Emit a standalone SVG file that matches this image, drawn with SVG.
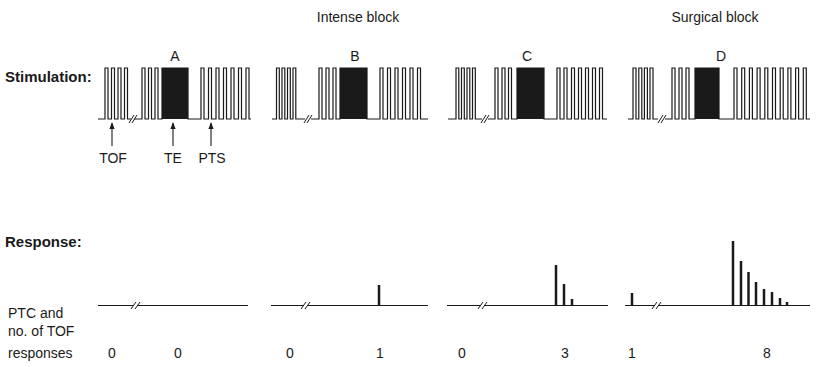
<svg xmlns="http://www.w3.org/2000/svg" width="821" height="367" viewBox="0 0 821 367">
<defs>
<style>
text{font-family:"Liberation Sans",Arial,sans-serif;fill:#1a1a1a}
.t{font-size:14px}
.h{font-size:15px;font-weight:bold}
.n{font-size:14px;text-anchor:middle}
.p{fill:none;stroke:#1a1a1a;stroke-width:1.2;stroke-linejoin:miter}
.blk{fill:#1a1a1a}
.br{stroke:#1a1a1a;stroke-width:1}
.sp{stroke:#1a1a1a;stroke-width:2.5}
.ar{stroke:#1a1a1a;stroke-width:1.1}
</style>
<marker id="ah" viewBox="0 0 10 10" refX="9" refY="5" markerWidth="6" markerHeight="6" orient="auto"><path d="M0,1 L10,5 L0,9 z" fill="#1a1a1a"/></marker>
</defs>
<rect width="821" height="367" fill="#fff"/>

<g id="titles">
<text class="t" x="358" y="22" text-anchor="middle">Intense block</text>
<text class="t" x="715" y="22" text-anchor="middle">Surgical block</text>
<text class="t" x="175" y="61" text-anchor="middle">A</text>
<text class="t" x="355" y="61" text-anchor="middle">B</text>
<text class="t" x="527" y="61" text-anchor="middle">C</text>
<text class="t" x="721" y="61" text-anchor="middle">D</text>
<text class="h" x="5" y="82">Stimulation:</text>
<text class="h" x="5" y="247">Response:</text>
<text class="t" x="8" y="318">PTC and</text>
<text class="t" x="8" y="336">no. of TOF</text>
<text class="t" x="8" y="358">responses</text>
</g>

<g id="stimA">
<path class="p" d="M98,119 H105 V68 H108 V119 H111.5 V68 H114.5 V119 H118 V68 H121 V119 H124.5 V68 H127.5 V119 H131"/>
<path class="p" d="M134,119 H142 V68 H145 V119 H148.5 V68 H151.5 V119 H155 V68 H158 V119 H162 V68 H188 V119 H201 V68 H204 V119 H208.5 V68 H211.5 V119 H216 V68 H219 V119 H223.5 V68 H226.5 V119 H231 V68 H234 V119 H238.5 V68 H241.5 V119 H246 V68 H249 V119 H251"/>
<rect class="blk" x="162" y="68" width="26" height="51"/>
<line class="br" x1="129" y1="123" x2="134" y2="115"/><line class="br" x1="132" y1="123" x2="137" y2="115"/>
</g>
<g id="arrowsA">
<line class="ar" x1="112" y1="146" x2="112" y2="123" marker-end="url(#ah)"/>
<line class="ar" x1="173" y1="146" x2="173" y2="123" marker-end="url(#ah)"/>
<line class="ar" x1="211" y1="146" x2="211" y2="123" marker-end="url(#ah)"/>
<text class="n" x="113" y="163">TOF</text>
<text class="n" x="173" y="163">TE</text>
<text class="n" x="212" y="163">PTS</text>
</g>

<g id="stimB">
<path class="p" d="M272,119 H276.5 V68 H279.3 V119 H282 V68 H284.8 V119 H287.5 V68 H290.3 V119 H293 V68 H295.8 V119 H305"/>
<path class="p" d="M311,119 H319 V68 H322 V119 H326 V68 H329 V119 H333 V68 H336 V119 H340 V68 H367 V119 H380 V68 H383 V119 H387.5 V68 H390.5 V119 H395 V68 H398 V119 H402.5 V68 H405.5 V119 H410 V68 H413 V119 H417.5 V68 H420.5 V119 H428"/>
<rect class="blk" x="340" y="68" width="27" height="51"/>
<line class="br" x1="304" y1="123" x2="309" y2="115"/><line class="br" x1="307" y1="123" x2="312" y2="115"/>
</g>

<g id="stimC">
<path class="p" d="M448,119 H456 V68 H458.8 V119 H461.5 V68 H464.3 V119 H467 V68 H469.8 V119 H472.5 V68 H475.3 V119 H482"/>
<path class="p" d="M488,119 H495 V68 H498 V119 H502 V68 H505 V119 H508.5 V68 H511.5 V119 H517 V68 H544 V119 H557 V68 H560 V119 H564 V68 H567 V119 H571.5 V68 H574.5 V119 H578.5 V68 H581.5 V119 H585.5 V68 H588.5 V119 H592.5 V68 H595.5 V119 H599.5 V68 H602.5 V119 H607"/>
<rect class="blk" x="517" y="68" width="27" height="51"/>
<line class="br" x1="481" y1="123" x2="486" y2="115"/><line class="br" x1="484" y1="123" x2="489" y2="115"/>
</g>

<g id="stimD">
<path class="p" d="M628,119 H633 V68 H636 V119 H638.8 V68 H641.8 V119 H644.4 V68 H647.4 V119 H650 V68 H653 V119 H658"/>
<path class="p" d="M665,119 H672 V68 H675 V119 H679 V68 H682 V119 H686 V68 H689 V119 H695 V68 H719 V119 H734 V68 H737 V119 H741.7 V68 H744.7 V119 H749.4 V68 H752.4 V119 H757.1 V68 H760.1 V119 H764.8 V68 H767.8 V119 H772.5 V68 H775.5 V119 H780.2 V68 H783.2 V119 H787.9 V68 H790.9 V119 H795.6 V68 H798.6 V119 H803.3 V68 H806.3 V119 H810"/>
<rect class="blk" x="695" y="68" width="24" height="51"/>
<line class="br" x1="658" y1="123" x2="663" y2="115"/><line class="br" x1="661" y1="123" x2="666" y2="115"/>
</g>

<g id="respA">
<path class="p" d="M98,305.5 H134 M138,305.5 H248"/>
<line class="br" x1="131" y1="309" x2="136" y2="302"/><line class="br" x1="135" y1="309" x2="140" y2="302"/>
</g>
<g id="respB">
<path class="p" d="M271,305.5 H304 M308,305.5 H428"/>
<line class="br" x1="301" y1="309" x2="306" y2="302"/><line class="br" x1="305" y1="309" x2="310" y2="302"/>
<line class="sp" x1="379" y1="285" x2="379" y2="305.5"/>
</g>
<g id="respC">
<path class="p" d="M447,305.5 H481 M485,305.5 H608"/>
<line class="br" x1="478" y1="309" x2="483" y2="302"/><line class="br" x1="482" y1="309" x2="487" y2="302"/>
<line class="sp" x1="556" y1="265" x2="556" y2="305.5"/>
<line class="sp" x1="564" y1="284" x2="564" y2="305.5"/>
<line class="sp" x1="572" y1="299" x2="572" y2="305.5"/>
</g>
<g id="respD">
<path class="p" d="M625,305.5 H655 M659,305.5 H810"/>
<line class="br" x1="652" y1="309" x2="657" y2="302"/><line class="br" x1="656" y1="309" x2="661" y2="302"/>
<line class="sp" x1="632" y1="293" x2="632" y2="305.5"/>
<line class="sp" x1="733" y1="241" x2="733" y2="305.5"/>
<line class="sp" x1="741" y1="261" x2="741" y2="305.5"/>
<line class="sp" x1="748.5" y1="272" x2="748.5" y2="305.5"/>
<line class="sp" x1="756" y1="282" x2="756" y2="305.5"/>
<line class="sp" x1="764" y1="289" x2="764" y2="305.5"/>
<line class="sp" x1="772" y1="292" x2="772" y2="305.5"/>
<line class="sp" x1="780" y1="298" x2="780" y2="305.5"/>
<line class="sp" x1="787" y1="302" x2="787" y2="305.5"/>
</g>

<g id="counts">
<text class="n" x="112" y="358">0</text>
<text class="n" x="178" y="358">0</text>
<text class="n" x="290" y="358">0</text>
<text class="n" x="380" y="358">1</text>
<text class="n" x="462" y="358">0</text>
<text class="n" x="565" y="358">3</text>
<text class="n" x="632" y="358">1</text>
<text class="n" x="767" y="358">8</text>
</g>
</svg>
